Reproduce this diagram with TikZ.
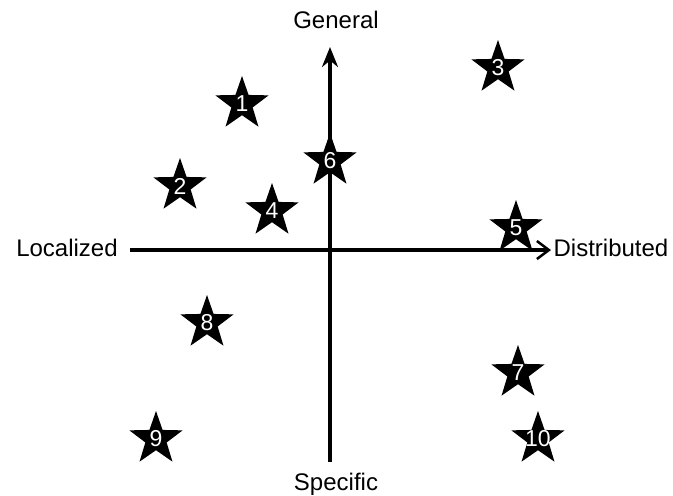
\documentclass[tikz,border=0pt]{standalone}
\usepackage{fontspec}
\setmainfont{Liberation Sans}
\usetikzlibrary{shapes.geometric, arrows.meta}
\tikzset{
    starmark/.style={star, star points=5, star point ratio=2.5, fill=black, inner sep=0pt, minimum size=56pt},
    starnum/.style={text=white, font=\fontsize{23}{24}\selectfont, inner sep=0pt},
    axislabel/.style={font=\fontsize{24}{28}\selectfont, inner sep=0pt}
}

\begin{document}
\begin{tikzpicture}[x=1pt, y=-1pt]
            \useasboundingbox (0,0) rectangle (673,496);

            % ---------------- axes ----------------
            \coordinate (left) at (130,250);
            \coordinate (right) at (551,250);
            \coordinate (bottom) at (330,462);
            \coordinate (top) at (330,47);

            \draw[line width=3.5pt, -{Straight Barb[length=12pt, width=18pt, line width=2.5pt]}] (left) -- (right);
            \draw[line width=3.5pt, -{Stealth[length=20pt, width=16pt]}] (bottom) -- (top);

            \node[axislabel] (general) at (336,20) {General};
            \node[axislabel] (specific) at (336,484) {Specific};
            \node[axislabel] (localized) at (67,248) {Localized};
            \node[axislabel] (distributed) at (611,248) {Distributed};

            % ---------------- stars ----------------
            \foreach \n/\x/\y in {1/242/104, 2/180/186, 3/498/68, 4/272/211, 5/516/228,
                                  6/330/161, 7/518/373, 8/207/323, 9/156/439, 10/538/439}
                \node[starmark, label={[starnum]center:\n}] (s\n) at (\x,\y) {};
        \end{tikzpicture}
\end{document}
